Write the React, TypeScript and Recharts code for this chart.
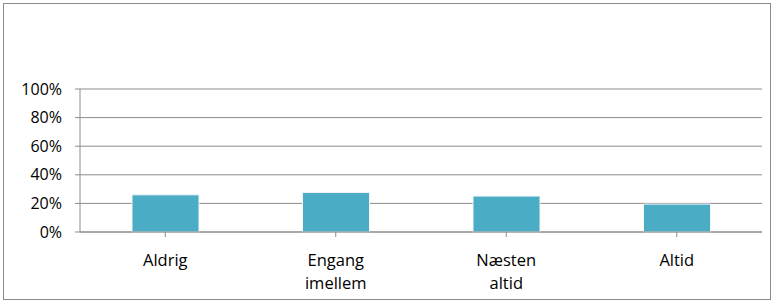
import React from 'react';
import { BarChart, Bar, XAxis, YAxis, CartesianGrid } from 'recharts';

const categories = ['Aldrig', 'Engang imellem', 'Næsten altid', 'Altid'];
const shares = [0.26, 0.276, 0.251, 0.195];
const yTicks = [0, 0.2, 0.4, 0.6, 0.8, 1];

const data = categories.map((name, i) => ({ name, value: shares[i] }));

const FONT = "'Open Sans', 'Noto Sans', sans-serif";

const CategoryTick = (props: any) => {
    const { x, y, payload } = props;
    const words = String(payload.value).split(' ');
    return (
        <text x={x} y={y + 27} textAnchor="middle" fill="#000" fontSize={16.5} fontFamily={FONT}>
            {words.map((w, i) => (
                <tspan key={i} x={x} dy={i === 0 ? 0 : 23}>{w}</tspan>
            ))}
        </text>
    );
};

const App: React.FC = () => {
    return (
        <div style={{ position: 'fixed', left: 0, top: 0, width: 772, height: 302, background: '#fff' }}>
            <div
                style={{
                    position: 'absolute', left: 3, top: 3, width: 768, height: 297,
                    border: '1px solid #8c8c8c', boxSizing: 'border-box',
                }}
            />
            <div style={{ position: 'absolute', left: 0, top: 0 }}>
                <BarChart width={772} height={302} data={data} margin={{ top: 89, right: 10, bottom: 10, left: 0 }}>
                    <CartesianGrid vertical={false} stroke="#8c8c8c" />
                    <XAxis
                        dataKey="name"
                        height={60}
                        interval={0}
                        tickSize={5}
                        stroke="#8c8c8c"
                        tick={<CategoryTick />}
                        tickLine={{ stroke: '#8c8c8c' }}
                        axisLine={{ stroke: '#8c8c8c' }}
                    />
                    <YAxis
                        width={80}
                        domain={[0, 1]}
                        ticks={yTicks}
                        interval={0}
                        tickSize={5}
                        tickMargin={13}
                        tickFormatter={(v: number) => `${Math.round(v * 100)}%`}
                        tick={{ fill: '#000', fontSize: 16, fontFamily: FONT }}
                        tickLine={{ stroke: '#8c8c8c' }}
                        axisLine={{ stroke: '#8c8c8c' }}
                    />
                    <Bar dataKey="value" fill="#4BACC6" barSize={67} stroke="#eef6f8" strokeWidth={1} isAnimationActive={false} />
                </BarChart>
            </div>
        </div>
    );
};

export default App;
